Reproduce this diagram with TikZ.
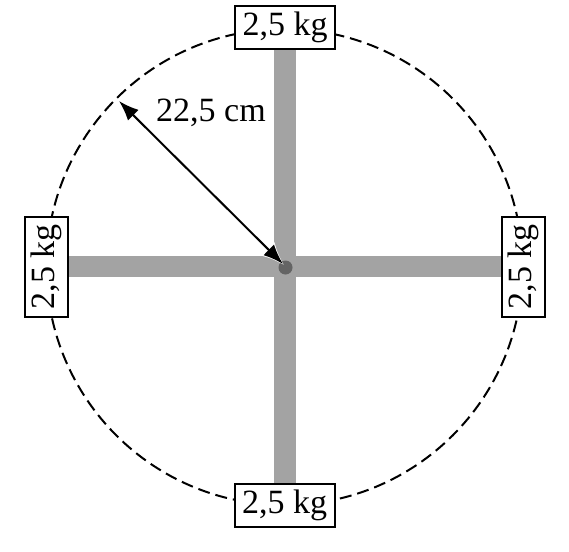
\documentclass[tikz,border=0pt]{standalone}
\usepackage{fontspec}
\setmainfont{Liberation Serif}
\usetikzlibrary{arrows.meta}
\definecolor{bargray}{RGB}{163,163,163}
\definecolor{dotgray}{RGB}{100,100,100}
\begin{document}
\begin{tikzpicture}[x=1pt,y=-1pt,
  massbox/.style={draw=black, fill=white, line width=2pt, inner sep=0pt,
    minimum width=100pt, minimum height=43pt, font=\fontsize{34}{40}\selectfont},
  bar/.style={line width=22pt, draw=bargray},
  rim/.style={dash pattern=on 12pt off 6pt, line width=2pt},
  dim/.style={line width=2pt, {Latex[length=20pt,width=15pt]}-{Latex[length=20pt,width=15pt]}},
  halo/.style={line width=5pt, draw=white, -{Latex[length=24pt,width=20pt]}, shorten <=60pt},
  lbl/.style={font=\fontsize{34}{40}\selectfont, inner sep=0pt}
]
\useasboundingbox (0,0) rectangle (569,551);
\coordinate (c) at (284.5,267);
% cross bars
\draw[bar] (284.5,45) -- (284.5,490);
\draw[bar, line width=21pt] (60,266.5) -- (510,266.5);
% dashed circle
\draw[rim] (c) circle[radius=238];
% center dot
\fill[dotgray] (285.5,267.5) circle[radius=7];
% radius dimension
\coordinate (rp) at (119,101);
\coordinate (ce) at (283,264);
\coordinate (ceh) at (284.5,265.5);
\draw[halo] (rp) -- (ceh);
\draw[dim] (rp) -- (ce);
\node[lbl] (r) at (211,113) {22,5 cm};
% masses
\node[massbox] (top) at (285,27.5) {2,5 kg};
\node[massbox] (bottom) at (284.5,505) {2,5 kg};
\node[massbox, rotate=90] (left) at (46,266.5) {2,5 kg};
\node[massbox, rotate=90] (right) at (523,266.5) {2,5 kg};
\end{tikzpicture}
\end{document}
